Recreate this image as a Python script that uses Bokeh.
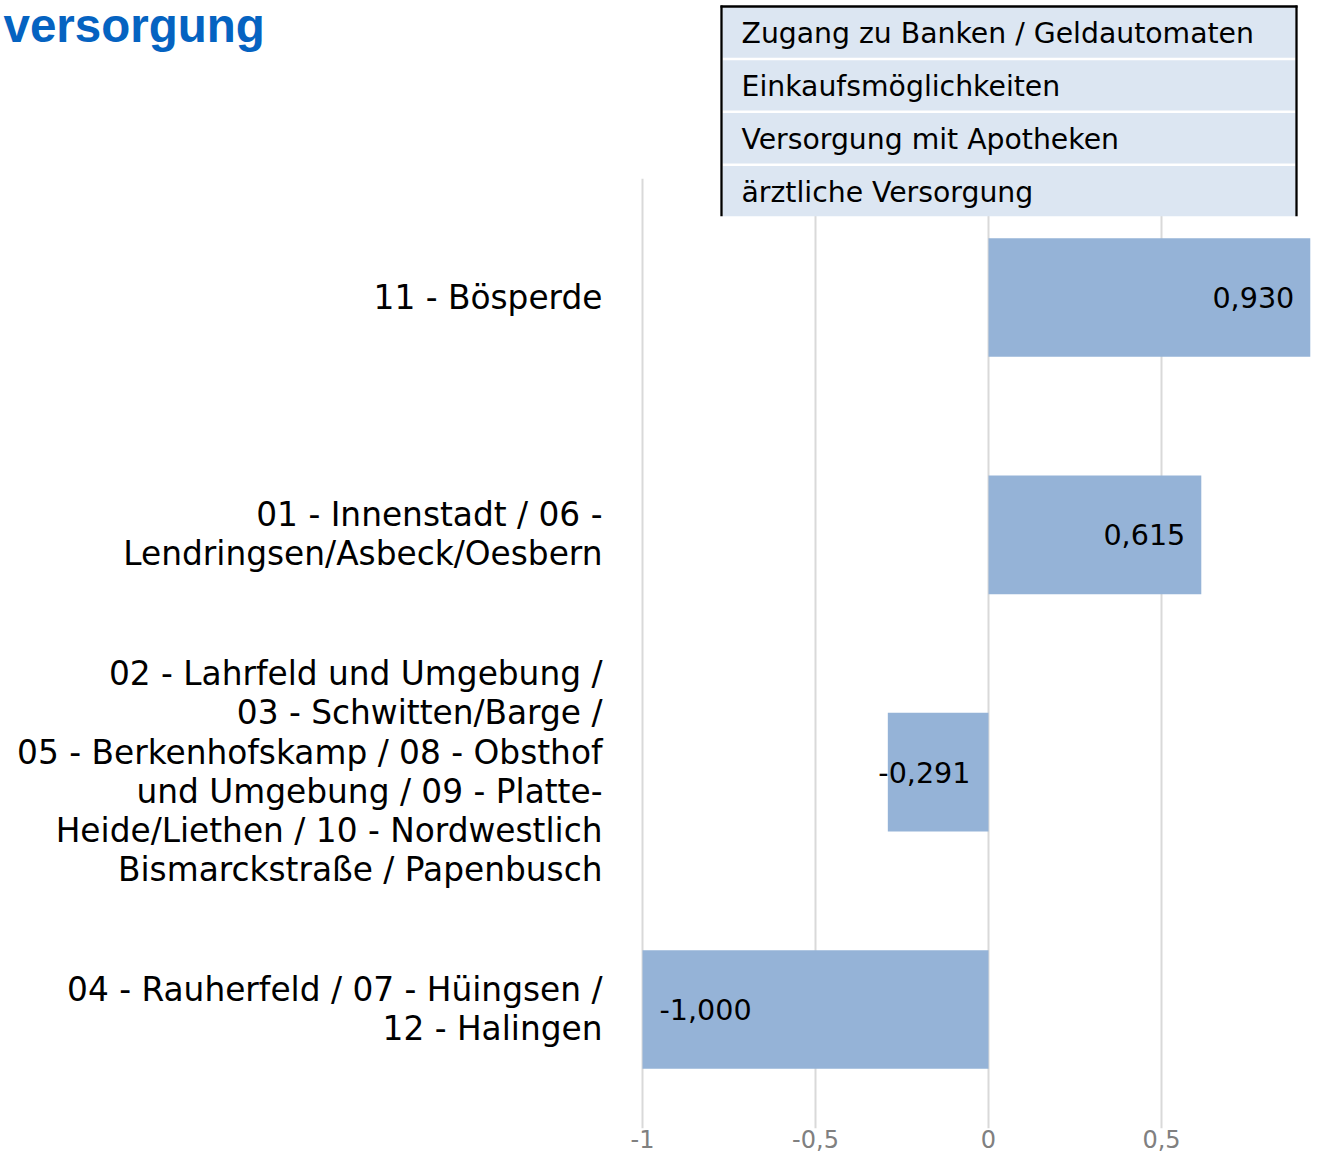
from bokeh.plotting import figure
from bokeh.models import Range1d
from bokeh.embed import file_html
from bokeh.resources import INLINE
from bokeh.core.properties import value

# ---------------- data ----------------
title_text = "versorgung"
legend_items = [
    "Zugang zu Banken / Geldautomaten",
    "Einkaufsmöglichkeiten",
    "Versorgung mit Apotheken",
    "ärztliche Versorgung",
]
categories = [
    "11 - Bösperde",
    "01 - Innenstadt / 06 -\nLendringsen/Asbeck/Oesbern",
    "02 - Lahrfeld und Umgebung /\n03 - Schwitten/Barge /\n05 - Berkenhofskamp / 08 - Obsthof\n"
    "und Umgebung / 09 - Platte-\nHeide/Liethen / 10 - Nordwestlich\nBismarckstraße / Papenbusch",
    "04 - Rauherfeld / 07 - Hüingsen /\n12 - Halingen",
]
values = [0.930, 0.615, -0.291, -1.000]
x_ticks = [-1, -0.5, 0, 0.5, 1]
x_tick_labels = ["-1", "-0,5", "0", "0,5", "1"]

# ---------------- layout ----------------
W, H = 1318, 1156
ZERO_PX = 988.0     # canvas px where x = 0
X_PX = 346.0        # px per x unit
CAT0_PX = 297.0     # canvas px of first category centre
CAT_PX = 237.33     # px per category


def dx(px):
    return (px - ZERO_PX) / X_PX


def dy(py):
    return (py - CAT0_PX) / CAT_PX


FONT = value("DejaVu Sans")
n = len(categories)
ys = list(range(n))

p = figure(width=W, height=H,
           x_range=Range1d(dx(0), dx(W)), y_range=Range1d(dy(H), dy(0)),
           output_backend="svg", toolbar_location=None,
           x_axis_location=None, y_axis_location=None,
           min_border=0, outline_line_color=None,
           background_fill_color="white", border_fill_color="white")
p.xgrid.grid_line_color = None
p.ygrid.grid_line_color = None

# grid lines
p.segment(x0=x_ticks, y0=[-0.5] * len(x_ticks), x1=x_ticks, y1=[n - 0.5] * len(x_ticks),
          line_color="#d9d9d9", line_width=2)

# legend-like box
LEG_L, LEG_R = 722, 1295
ROW_TOP0, ROW_PITCH, ROW_H = 7.0, 52.8, 50.3
tops = [ROW_TOP0 + i * ROW_PITCH for i in range(len(legend_items))]
bots = [t + ROW_H for t in tops]
p.quad(left=[dx(LEG_L)] * len(tops), right=[dx(LEG_R)] * len(tops),
       top=[dy(t) for t in tops], bottom=[dy(b) for b in bots],
       fill_color="#dce6f2", line_color=None)
# black frame: sides and top
p.segment(x0=[dx(LEG_L - 1), dx(LEG_R + 1)], x1=[dx(LEG_L - 1), dx(LEG_R + 1)],
          y0=[dy(5)] * 2, y1=[dy(bots[-1])] * 2, line_color="black", line_width=2.3)
p.segment(x0=[dx(LEG_L - 2)], x1=[dx(LEG_R + 2)], y0=[dy(6)], y1=[dy(6)],
          line_color="black", line_width=2.3)
p.text(x=[dx(741)] * len(legend_items), y=[dy((t + b) / 2 + 1) for t, b in zip(tops, bots)],
       text=legend_items, text_font=FONT, text_font_size="28.3px", text_color="black",
       text_align="left", text_baseline="middle")

# bars
p.hbar(y=ys, left=0, right=values, height=0.5, fill_color="#95b3d7", line_color=None)

# value labels
lab_x, lab_off, lab_align = [], [], []
for v in values:
    if v >= 0:
        lab_x.append(v); lab_off.append(-16); lab_align.append("right")
    elif abs(v) * X_PX >= 130:
        lab_x.append(v); lab_off.append(17); lab_align.append("left")
    else:
        lab_x.append(0); lab_off.append(-18); lab_align.append("right")
p.text(x=lab_x, y=ys, x_offset=lab_off, text=[f"{v:.3f}".replace(".", ",") for v in values],
       text_align=lab_align, text_baseline="middle", text_font=FONT,
       text_font_size="28.6px", text_color="black")

# category labels
p.text(x=[x_ticks[0]] * n, y=ys, x_offset=-40, text=categories,
       text_align="right", text_baseline="middle", text_font=FONT,
       text_font_size="32.8px", text_color="black", text_line_height=1.03)

# x tick labels
p.text(x=x_ticks, y=[n - 0.5] * len(x_ticks), y_offset=11, text=x_tick_labels,
       text_align="center", text_baseline="middle", text_font=FONT,
       text_font_size="24px", text_color="#808080")

# title
p.text(x=[dx(3)], y=[dy(25)], text=[title_text], text_align="left", text_baseline="alphabetic",
       text_font=value("Liberation Sans"), text_font_style="bold",
       text_font_size="47.5px", text_color="#0563c1")

open("out.html", "w").write(file_html(p, INLINE))
